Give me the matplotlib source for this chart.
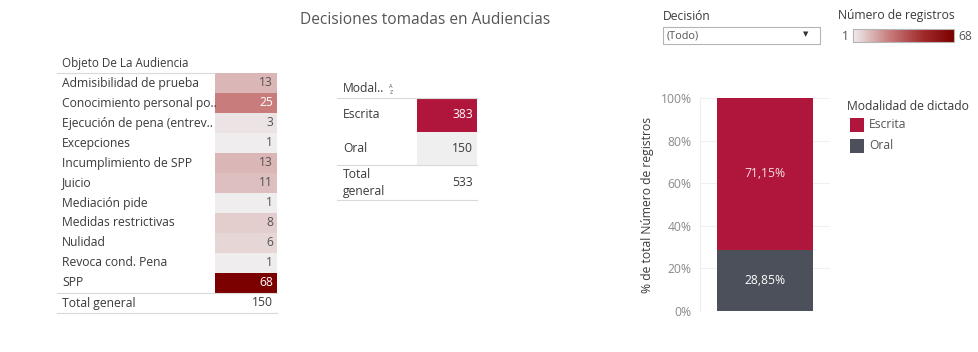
import matplotlib
matplotlib.use('Agg')
import matplotlib.pyplot as plt
from matplotlib.patches import Rectangle
from matplotlib.colors import LinearSegmentedColormap, Normalize
import numpy as np

plt.rcParams['font.family'] = ['Open Sans', 'DejaVu Sans']

# data
objetos = ['Admisibilidad de prueba', 'Conocimiento personal po..',
           'Ejecución de pena (entrev..', 'Excepciones', 'Incumplimiento de SPP',
           'Juicio', 'Mediación pide', 'Medidas restrictivas', 'Nulidad',
           'Revoca cond. Pena', 'SPP']
registros = [13, 25, 3, 1, 13, 11, 1, 8, 6, 1, 68]
total_objetos = 150

modalidades = ['Escrita', 'Oral']
modal_counts = [383, 150]
total_modal = 533

pct_modal = [71.15, 28.85]
y_ticks = [0, 20, 40, 60, 80, 100]

reds = LinearSegmentedColormap.from_list(
    'tab_red', [(0, '#efeded'), (0.18, '#dbb5b5'), (0.36, '#c97b7b'),
                (0.7, '#a02a2a'), (1, '#7b0000')])
norm = Normalize(min(registros), max(registros))
col_escrita = '#b0163b'
col_oral = '#4b505b'
txt = '#555555'
dark = '#3a3a3a'
line = '#d9d9d9'

fig = plt.figure(figsize=(9.79, 3.52), dpi=100)
bg = fig.add_axes([0, 0, 1, 1])
bg.set_xlim(0, 979)
bg.set_ylim(352, 0)
bg.axis('off')

bg.text(425, 20, 'Decisiones tomadas en Audiencias', fontsize=11.2, color=txt,
        ha='center', va='center')

# ---- table 1
fs = 8.7
top, rh = 73, 20
bg.text(62, 64, 'Objeto De La Audiencia', fontsize=fs - 0.3, color=dark, va='center')
bg.plot([57, 215], [top, top], color=line, lw=0.8)
for i, (lab, v) in enumerate(zip(objetos, registros)):
    y0 = top + i * rh
    c = reds(norm(v))
    bg.add_patch(Rectangle((215, y0), 62, rh, color=c, lw=0))
    bg.text(62, y0 + rh / 2, lab, fontsize=fs, color=dark, va='center')
    tc = 'white' if norm(v) > 0.3 else txt
    bg.text(273, y0 + rh / 2, str(v), fontsize=fs, color=tc, va='center', ha='right')
ytot = top + len(objetos) * rh
bg.plot([57, 277], [ytot, ytot], color=line, lw=0.8)
bg.text(62, ytot + rh / 2, 'Total general', fontsize=fs, color=dark, va='center')
bg.text(273, ytot + rh / 2, str(total_objetos), fontsize=fs, color=dark,
        va='center', ha='right')
bg.plot([57, 277], [ytot + rh, ytot + rh], color=line, lw=0.8)

# ---- table 2
top2, rh2 = 98, 33.5
bg.text(343, 89, 'Modal..', fontsize=fs, color=dark, va='center')
bg.text(391, 86, 'A', fontsize=4, color='#555555', va='center', ha='center')
bg.text(391, 92, 'Z', fontsize=4, color='#555555', va='center', ha='center')
bg.plot([337, 477], [top2, top2], color=line, lw=0.8)
cells2 = [col_escrita, '#efefef']
for i, (lab, v) in enumerate(zip(modalidades, modal_counts)):
    y0 = top2 + i * rh2
    bg.add_patch(Rectangle((417, y0), 60, rh2, color=cells2[i], lw=0))
    bg.text(343, y0 + rh2 / 2, lab, fontsize=fs, color=dark, va='center')
    tc = 'white' if i == 0 else dark
    bg.text(473, y0 + rh2 / 2, str(v), fontsize=fs, color=tc, va='center', ha='right')
ytot2 = top2 + 2 * rh2
bg.plot([337, 477], [ytot2, ytot2], color=line, lw=0.8)
bg.text(343, ytot2 + 18, 'Total\ngeneral', fontsize=fs, color=dark,
        va='center', linespacing=1.35)
bg.text(473, ytot2 + 18, str(total_modal), fontsize=fs, color=dark,
        va='center', ha='right')
bg.plot([337, 477], [ytot2 + 35, ytot2 + 35], color=line, lw=0.8)

# ---- filter + colour legend
bg.text(663, 17, 'Decisión', fontsize=fs, color=dark, va='center')
bg.add_patch(Rectangle((663, 27), 157, 17, fill=False, ec='#b5b5b5', lw=0.8))
bg.text(667, 35.5, '(Todo)', fontsize=7.8, color='#555555', va='center')
bg.text(806, 34.5, '▼', fontsize=5, color='#333333', va='center', ha='center')

bg.text(838, 16, 'Número de registros', fontsize=fs, color=dark, va='center')
grad = np.linspace(0, 1, 256).reshape(1, -1)
bg.imshow(grad, cmap=reds, extent=(853, 954, 42, 29), aspect='auto', zorder=2)
bg.add_patch(Rectangle((853, 29), 101, 13, fill=False, ec='#b5b5b5', lw=0.8, zorder=3))
bg.text(845, 36, str(min(registros)), fontsize=fs, color='#555555', va='center', ha='center')
bg.text(958, 36, str(max(registros)), fontsize=fs, color='#555555', va='center')
bg.set_xlim(0, 979)
bg.set_ylim(352, 0)

# ---- stacked bar
ax = fig.add_axes([700 / 979, (352 - 311) / 352, 130 / 979, 213 / 352])
ax.bar(0, pct_modal[1], width=0.74, color=col_oral, zorder=2)
ax.bar(0, pct_modal[0], bottom=pct_modal[1], width=0.74, color=col_escrita, zorder=2)
ax.text(0, pct_modal[1] + pct_modal[0] / 2, f'{pct_modal[0]:.2f}%'.replace('.', ','),
        ha='center', va='center', color='#f6dde3', fontsize=fs)
ax.text(0, pct_modal[1] / 2, f'{pct_modal[1]:.2f}%'.replace('.', ','),
        ha='center', va='center', color='white', fontsize=fs)
ax.set_xlim(-0.5, 0.5)
ax.set_ylim(0, 100)
ax.set_yticks(y_ticks)
ax.set_yticklabels([f'{t}%' for t in y_ticks], color='#8a8a8a', fontsize=fs)
ax.tick_params(axis='y', length=0, pad=6)
ax.set_xticks([])
ax.grid(axis='y', color='#f0f0f0', lw=0.8, zorder=0)
for s in ax.spines.values():
    s.set_visible(False)
ax.spines['left'].set_visible(True)
ax.spines['left'].set_color('#eeeeee')
ax.set_ylabel('% de total Número de registros', fontsize=fs, color=dark, labelpad=5)

# legend
bg.text(847, 106, 'Modalidad de dictado', fontsize=fs, color=dark, va='center')
for i, (lab, c) in enumerate(zip(modalidades, [col_escrita, col_oral])):
    y0 = 118 + i * 20.5
    bg.add_patch(Rectangle((850, y0), 14, 14, color=c, lw=0))
    bg.text(869, y0 + 7, lab, fontsize=fs, color='#555555', va='center')

fig.savefig('out.png', dpi=100)
